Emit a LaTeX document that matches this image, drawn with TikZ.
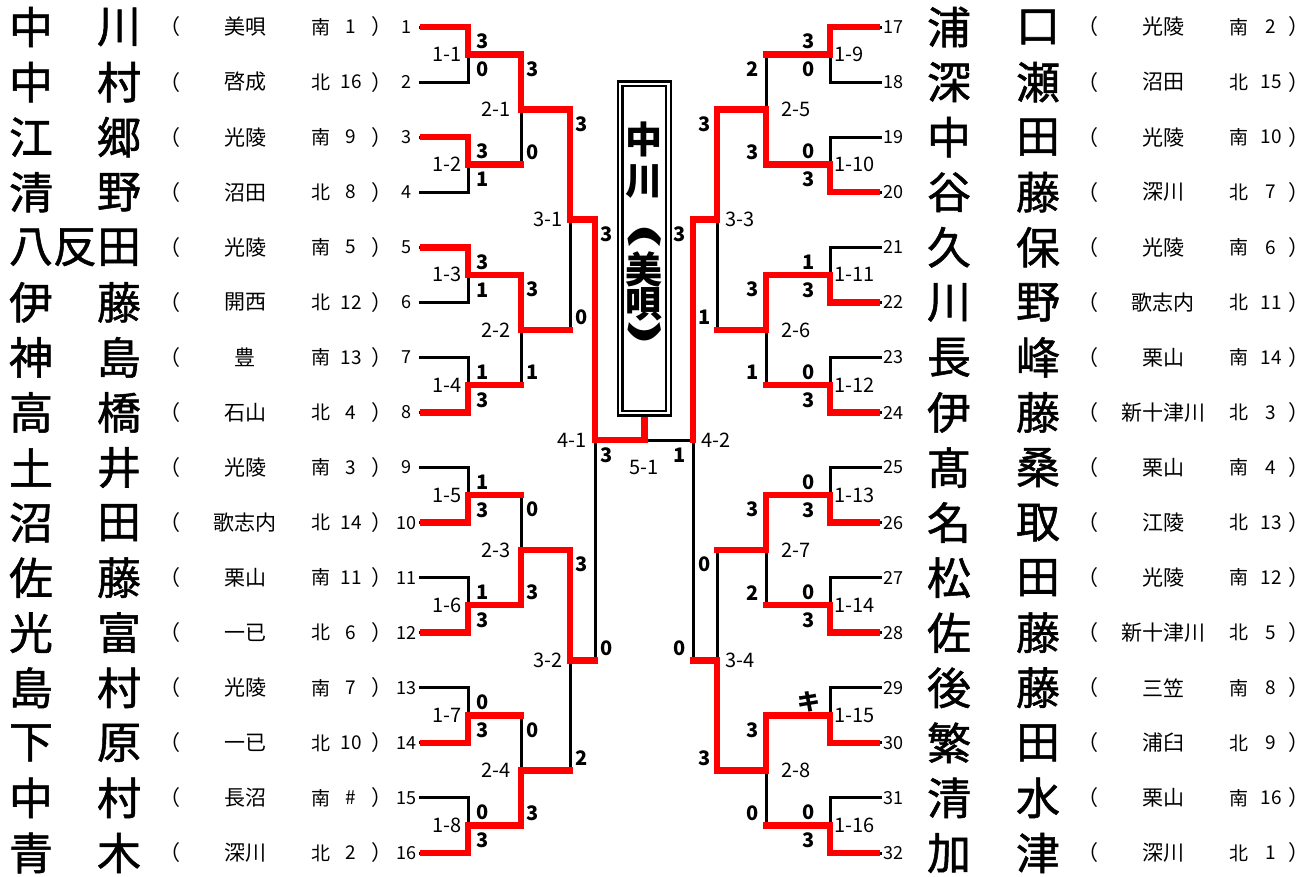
\documentclass[tikz,border=0pt]{standalone}
\usepackage{fontspec}
\usepackage{graphicx}
\setmainfont{Noto Sans CJK JP}
\newfontfamily\namefont{Noto Sans CJK JP}[FakeBold=1.2]
\newcommand\fname{\namefont\fontsize{44}{48}\selectfont}
\newcommand\fschool{\fontsize{21}{24}\selectfont}
\newcommand\fseed{\fontsize{19}{22}\selectfont}
\newcommand\fnum{\fontsize{18}{20}\selectfont}
\newcommand\flab{\fontsize{20}{22}\selectfont}
\newcommand\fscore{\fontsize{20}{22}\selectfont\bfseries}
\newcommand\fchamp{\fontsize{37}{40}\selectfont\bfseries}
\newcommand\fparen{\fontsize{32}{34}\selectfont\bfseries}
\begin{document}
\begin{tikzpicture}[x=1pt,y=-1pt,
  blk/.style={line width=3pt,line join=miter,line cap=rect},
  winln/.style={line width=6.5pt,draw=red,line join=miter,line cap=rect},
  txt/.style={inner sep=0pt,outer sep=0pt},
  sc/.style={txt,font=\fscore},
  lab/.style={txt,font=\flab}]
\useasboundingbox (0,0) rectangle (1312,876);
% ---------- reference coordinates ----------
\foreach \i in {1,...,16}{\coordinate (r\i) at (0,{27+55.0667*(\i-1)});}
\foreach \j in {1,...,8}{\coordinate (m\j) at (0,{27+55.0667*(2*\j-1.5)});}
\foreach \k in {1,...,4}{\coordinate (n\k) at (0,{27+55.0667*(4*\k-2.5)});}
\foreach \l in {1,2}{\coordinate (p\l) at (0,{27+55.0667*(8*\l-4.5)});}
\coordinate (q) at (0,{27+55.0667*7.5});
\coordinate (L0) at (420,0); \coordinate (L0s) at (423,0);
\coordinate (L1) at (468,0); \coordinate (L2) at (521,0);
\coordinate (L3) at (570,0); \coordinate (L4) at (595,0);
\coordinate (C) at (644.3,0);
\coordinate (R0) at (880,0); \coordinate (R0s) at (877,0);
\coordinate (R1) at (830,0); \coordinate (R2) at (766,0);
\coordinate (R3) at (717,0); \coordinate (R4) at (693,0);
\node[txt,minimum width=48.5pt,minimum height=329.3pt] (box) at (644.3,248.4) {};
% ---------- black bracket ----------
\foreach \j in {1,...,8}{
  \pgfmathtruncatemacro\a{2*\j-1}\pgfmathtruncatemacro\b{2*\j}
  \draw[blk] (L0|-r\a) -| (L1|-r\b) -- (L0|-r\b);
  \draw[blk] (L1|-m\j) -- (L2|-m\j);
  \draw[blk] (R0|-r\a) -| (R1|-r\b) -- (R0|-r\b);
  \draw[blk] (R1|-m\j) -- (R2|-m\j);
}
\foreach \k in {1,...,4}{
  \pgfmathtruncatemacro\a{2*\k-1}\pgfmathtruncatemacro\b{2*\k}
  \draw[blk] (L2|-m\a) -- (L2|-m\b);
  \draw[blk] (L2|-n\k) -- (L3|-n\k);
  \draw[blk] (R2|-m\a) -- (R2|-m\b);
  \draw[blk] (R2|-n\k) -- (R3|-n\k);
}
\foreach \l in {1,2}{
  \pgfmathtruncatemacro\a{2*\l-1}\pgfmathtruncatemacro\b{2*\l}
  \draw[blk] (L3|-n\a) -- (L3|-n\b);
  \draw[blk] (L3|-p\l) -- (L4|-p\l);
  \draw[blk] (R3|-n\a) -- (R3|-n\b);
  \draw[blk] (R3|-p\l) -- (R4|-p\l);
}
\draw[blk] (L4|-p1) -- (L4|-p2);
\draw[blk] (R4|-p1) -- (R4|-p2);
\draw[blk] (L4|-q) -- (C|-q) -- (R4|-q);
% ---------- winners (red) ----------
\draw[winln] (L0s|-r1) -| (L1|-m1) -| (L2|-n1) -| (L3|-p1) -| (L4|-q) -| (box.south);
\draw[winln] (L0s|-r3) -| (L1|-m2) -- (L2|-m2);
\draw[winln] (L0s|-r5) -| (L1|-m3) -| (L2|-n2) -- (L3|-n2);
\draw[winln] (L0s|-r8) -| (L1|-m4) -- (L2|-m4);
\draw[winln] (L0s|-r10) -| (L1|-m5) -- (L2|-m5);
\draw[winln] (L0s|-r12) -| (L1|-m6) -| (L2|-n3) -| (L3|-p2) -- (L4|-p2);
\draw[winln] (L0s|-r14) -| (L1|-m7) -- (L2|-m7);
\draw[winln] (L0s|-r16) -| (L1|-m8) -| (L2|-n4) -- (L3|-n4);
\draw[winln] (R0s|-r1) -| (R1|-m1) -- (R2|-m1);
\draw[winln] (R0s|-r4) -| (R1|-m2) -| (R2|-n1) -| (R3|-p1) -| (R4|-q);
\draw[winln] (R0s|-r6) -| (R1|-m3) -| (R2|-n2) -- (R3|-n2);
\draw[winln] (R0s|-r8) -| (R1|-m4) -- (R2|-m4);
\draw[winln] (R0s|-r10) -| (R1|-m5) -| (R2|-n3) -- (R3|-n3);
\draw[winln] (R0s|-r12) -| (R1|-m6) -- (R2|-m6);
\draw[winln] (R0s|-r14) -| (R1|-m7) -| (R2|-n4) -| (R3|-p2) -- (R4|-p2);
\draw[winln] (R0s|-r16) -| (R1|-m8) -- (R2|-m8);
% ---------- champion box ----------
\draw[line width=2.3pt,double=white,double distance=2.5pt] (box.south west) rectangle (box.north east);
\node[txt,font=\fchamp] (c1) at (644.3,139.5) {中};
\node[txt,font=\fchamp] (c2) at (644.3,181.5) {川};
\node[txt,font=\fparen,rotate=-90] (c3) at (644.3,237) {\scalebox{2.2}[1]{(}};
\node[txt,font=\fchamp] (c4) at (644.3,269) {美};
\node[txt,font=\fchamp] (c5) at (644.3,304) {唄};
\node[txt,font=\fparen,rotate=-90] (c6) at (644.3,333) {\scalebox{2.2}[1]{)}};
% ---------- left entries ----------
\foreach \i/\a/\b/\s/\ns/\sd in {
 1/中/川/美唄/南/1, 2/中/村/啓成/北/16, 3/江/郷/光陵/南/9, 4/清/野/沼田/北/8,
 5/八/田/光陵/南/5, 6/伊/藤/開西/北/12, 7/神/島/豊/南/13, 8/高/橋/石山/北/4,
 9/土/井/光陵/南/3, 10/沼/田/歌志内/北/14, 11/佐/藤/栗山/南/11, 12/光/富/一已/北/6,
 13/島/村/光陵/南/7, 14/下/原/一已/北/10, 15/中/村/長沼/南/\#, 16/青/木/深川/北/2}{
 \pgfmathsetmacro\y{27+55.0667*(\i-1)}
 \node[txt,font=\fname] (la\i) at (31,\y) {\a};
 \node[txt,font=\fname] (lb\i) at (119,\y) {\b};
 \node[txt,font=\fschool] (lo\i) at (170,\y) {（};
 \node[txt,font=\fschool] (ls\i) at (245,\y) {\s};
 \node[txt,font=\fseed] (lr\i) at (321,\y) {\ns};
 \node[txt,font=\fseed] (ld\i) at (351,\y) {\sd};
 \node[txt,font=\fschool] (lc\i) at (382,\y) {）};
 \node[txt,font=\fnum] (lp\i) at (406,\y) {\i};
}
\node[txt,font=\fname] (la5m) at (75,{27+55.0667*4}) {反};
% ---------- right entries ----------
\foreach \i/\a/\b/\s/\ns/\sd in {
 1/浦/口/光陵/南/2, 2/深/瀬/沼田/北/15, 3/中/田/光陵/南/10, 4/谷/藤/深川/北/7,
 5/久/保/光陵/南/6, 6/川/野/歌志内/北/11, 7/長/峰/栗山/南/14, 8/伊/藤/新十津川/北/3,
 9/髙/桑/栗山/南/4, 10/名/取/江陵/北/13, 11/松/田/光陵/南/12, 12/佐/藤/新十津川/北/5,
 13/後/藤/三笠/南/8, 14/繁/田/浦臼/北/9, 15/清/水/栗山/南/16, 16/加/津/深川/北/1}{
 \pgfmathsetmacro\y{27+55.0667*(\i-1)}
 \pgfmathtruncatemacro\pn{\i+16}
 \node[txt,font=\fnum] (rp\i) at (893,\y) {\pn};
 \node[txt,font=\fname] (ra\i) at (949,\y) {\a};
 \node[txt,font=\fname] (rb\i) at (1038,\y) {\b};
 \node[txt,font=\fschool] (ro\i) at (1088,\y) {（};
 \node[txt,font=\fschool] (rs\i) at (1163,\y) {\s};
 \node[txt,font=\fseed] (rr\i) at (1239,\y) {\ns};
 \node[txt,font=\fseed] (rd\i) at (1271,\y) {\sd};
 \node[txt,font=\fschool] (rc\i) at (1299,\y) {）};
}
% ---------- match labels ----------
\foreach \j in {1,...,8}{
  \pgfmathtruncatemacro\rj{\j+8}
  \node[lab,anchor=east] (ml\j) at (L1|-m\j) [xshift=-6pt] {1-\j};
  \node[lab,anchor=west] (mr\j) at (R1|-m\j) [xshift=4pt] {1-\rj};
}
\foreach \k in {1,...,4}{
  \pgfmathtruncatemacro\rk{\k+4}
  \node[lab,anchor=east] (nl\k) at (L2|-n\k) [xshift=-10pt] {2-\k};
  \node[lab,anchor=west] (nr\k) at (R2|-n\k) [xshift=15pt] {2-\rk};
}
\foreach \l in {1,2}{
  \pgfmathtruncatemacro\rl{\l+2}
  \node[lab,anchor=east] (pl\l) at (L3|-p\l) [xshift=-7pt] {3-\l};
  \node[lab,anchor=west] (pr\l) at (R3|-p\l) [xshift=8pt] {3-\rl};
}
\node[lab,anchor=east] (ql) at (L4|-q) [xshift=-8pt] {4-1};
\node[lab,anchor=west] (qr) at (R4|-q) [xshift=8pt] {4-2};
\node[lab] (fin) at (644,467) {5-1};
% ---------- scores ----------
\foreach \j/\t/\u in {1/3/0,2/3/1,3/3/1,4/1/3,5/1/3,6/1/3,7/0/3,8/0/3}{
  \pgfmathsetmacro\yt{27+55.0667*(2*\j-2)+14.5}
  \pgfmathsetmacro\yb{27+55.0667*(2*\j-1)-12.5}
  \node[sc] (sa\j) at (483,\yt) {\t};
  \node[sc] (sb\j) at (483,\yb) {\u};
}
\foreach \j/\t/\u in {1/3/0,2/0/3,3/1/3,4/0/3,5/0/3,6/0/3,8/0/3}{
  \pgfmathsetmacro\yt{27+55.0667*(2*\j-2)+14.5}
  \pgfmathsetmacro\yb{27+55.0667*(2*\j-1)-12.5}
  \node[sc] (ta\j) at (809,\yt) {\t};
  \node[sc] (tb\j) at (809,\yb) {\u};
}
\node[sc,font=\fontsize{23}{25}\selectfont\bfseries] (ta7) at (809,{27+55.0667*12+14.5}) {キ};
\foreach \k/\t/\u in {1/3/0,2/3/1,3/0/3,4/0/3}{
  \pgfmathsetmacro\yt{27+55.0667*(4*\k-3.5)+14.5}
  \pgfmathsetmacro\yb{27+55.0667*(4*\k-1.5)-12.5}
  \node[sc] (ua\k) at (533,\yt) {\t};
  \node[sc] (ub\k) at (533,\yb) {\u};
}
\foreach \k/\t/\u in {1/2/3,2/3/1,3/3/2,4/3/0}{
  \pgfmathsetmacro\yt{27+55.0667*(4*\k-3.5)+14.5}
  \pgfmathsetmacro\yb{27+55.0667*(4*\k-1.5)-12.5}
  \node[sc] (va\k) at (752.5,\yt) {\t};
  \node[sc] (vb\k) at (752.5,\yb) {\u};
}
\foreach \l/\t/\u in {1/3/0,2/3/2}{
  \pgfmathsetmacro\yt{27+55.0667*(8*\l-6.5)+14.5}
  \pgfmathsetmacro\yb{27+55.0667*(8*\l-2.5)-12.5}
  \node[sc] (wa\l) at (582,\yt) {\t};
  \node[sc] (wb\l) at (582,\yb) {\u};
}
\foreach \l/\t/\u in {1/3/1,2/0/3}{
  \pgfmathsetmacro\yt{27+55.0667*(8*\l-6.5)+14.5}
  \pgfmathsetmacro\yb{27+55.0667*(8*\l-2.5)-12.5}
  \node[sc] (xa\l) at (705,\yt) {\t};
  \node[sc] (xb\l) at (705,\yb) {\u};
}
\node[sc] (ya) at (607,{27+55.0667*3.5+14.5}) {3};
\node[sc] (yb) at (607,{27+55.0667*11.5-12.5}) {0};
\node[sc] (za) at (680,{27+55.0667*3.5+14.5}) {3};
\node[sc] (zb) at (680,{27+55.0667*11.5-12.5}) {0};
\node[sc] (f1) at (607,455) {3};
\node[sc] (f2) at (680,455) {1};
\end{tikzpicture}
\end{document}
